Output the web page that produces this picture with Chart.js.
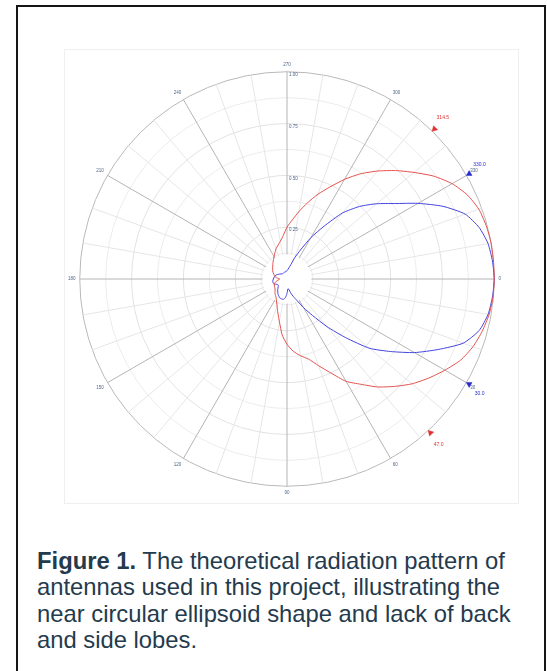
<!DOCTYPE html>
<html>
<head>
<meta charset="utf-8">
<title>Antenna radiation pattern</title>
<script src="https://cdn.jsdelivr.net/npm/chart.js@4.4.1/dist/chart.umd.min.js"></script>
<style>
  html, body { margin: 0; padding: 0; background: #fff; }
  body { width: 547px; height: 671px; position: relative; overflow: hidden;
         font-family: "Liberation Sans", Arial, sans-serif; }
  #frame { position: absolute; left: 16px; top: 5px; width: 530px; height: 720px;
           border: 2px solid #151515; box-sizing: border-box; }
  #panel { position: absolute; left: 64px; top: 49px; width: 455px; height: 455px;
           border: 1px solid #efefef; box-sizing: border-box; }
  #pattern { position: absolute; left: 66px; top: 60px; }
  #caption { position: absolute; left: 37px; top: 548px; font-size: 23.8px;
             line-height: 26.3px; color: #243a4d; white-space: nowrap; }
</style>
</head>
<body>
<div id="frame"></div>
<div id="panel"></div>
<canvas id="pattern" width="438" height="438"></canvas>
<div id="caption"><b>Figure 1.</b> The theoretical radiation pattern of<br>antennas used in this project, illustrating the<br>near circular ellipsoid shape and lack of back<br>and side lobes.</div>

<script>
// Normalised field pattern, angle in degrees measured clockwise from 0 (right)
const blueAngles = [0, 5, 10, 15, 20, 25, 30, 35, 40, 45, 50, 55, 60, 65, 70, 75, 80, 85, 90, 95,
  100, 110, 120, 130, 140, 145, 150, 160, 170, 180, 190, 200, 210, 220, 230, 240, 250, 260, 270,
  280, 285, 290, 295, 300, 305, 310, 315, 320, 325, 330, 335, 340, 345, 350, 355];
const blueGain = [1.00, 0.995, 0.985, 0.96, 0.905, 0.805, 0.71, 0.61, 0.52, 0.40, 0.30, 0.215, 0.16, 0.115, 0.09, 0.07, 0.05, 0.048, 0.07, 0.09,
  0.10, 0.098, 0.086, 0.07, 0.055, 0.051, 0.053, 0.068, 0.07, 0.066, 0.062, 0.056, 0.046, 0.038, 0.033, 0.033, 0.035, 0.036, 0.04,
  0.055, 0.072, 0.11, 0.155, 0.23, 0.31, 0.415, 0.495, 0.565, 0.635, 0.73, 0.83, 0.915, 0.96, 0.985, 0.995];

const redAngles = [0, 5, 10, 15, 20, 25, 30, 35, 40, 45, 50, 55, 60, 65, 70, 75, 80, 85, 90, 95,
  100, 105, 110, 120, 130, 140, 150, 160, 170, 175, 180, 185, 190, 200, 210, 220, 230, 240, 250,
  260, 265, 270, 275, 280, 285, 290, 295, 300, 305, 310, 315, 320, 325, 330, 335, 340, 345, 350, 355];
const redGain = [1.00, 0.998, 0.99, 0.975, 0.955, 0.925, 0.88, 0.834, 0.787, 0.733, 0.68, 0.62, 0.57, 0.50, 0.445, 0.40, 0.376, 0.35, 0.315, 0.27,
  0.21, 0.17, 0.14, 0.105, 0.09, 0.075, 0.07, 0.065, 0.05, 0.04, 0.035, 0.045, 0.058, 0.068, 0.08, 0.09, 0.105, 0.125, 0.155,
  0.185, 0.21, 0.25, 0.285, 0.33, 0.38, 0.435, 0.49, 0.555, 0.62, 0.68, 0.74, 0.80, 0.865, 0.92, 0.96, 0.985, 0.995, 1.00, 1.00];

// Half-power beamwidth markers (angle, radial level)
const blueMarkerAngles = [330, 30];
const blueMarkerLevels = [1.015, 1.015];
const redMarkerAngles = [314.5, 47];
const redMarkerLevels = [1.015, 1.015];

// Radial axis
const radialMin = 0;
const radialMax = 1;
const radialStep = 0.125;
const radialLabelStep = 0.25;

// Angular categories: 0.5 degree steps, starting at 270 at the top and running clockwise
const ANGLE_STEP = 0.5;
const angleLabels = [];
for (let i = 0; i < 360 / ANGLE_STEP; i++) {
  angleLabels.push(String((270 + i * ANGLE_STEP) % 360));
}
const indexOfAngle = a => Math.round((((a - 270) % 360) + 360) % 360 / ANGLE_STEP);
const angleAt = i => Number(angleLabels[i]);

function toSeries(angles, values) {
  const out = new Array(angleLabels.length).fill(null);
  angles.forEach((a, k) => { out[indexOfAngle(a)] = values[k]; });
  return out;
}

const RED = '#e4504c';
const BLUE = '#4343e0';
const LABEL = '#4f6686';

// White disc in the middle of the grid, where the spokes stop
const centreHole = {
  id: 'centreHole',
  beforeDatasetsDraw(chart) {
    const s = chart.scales.r;
    const ctx = chart.ctx;
    ctx.save();
    ctx.fillStyle = '#ffffff';
    ctx.beginPath();
    ctx.arc(s.xCenter, s.yCenter, s.getDistanceFromCenterForValue(0.118), 0, Math.PI * 2);
    ctx.fill();
    ctx.restore();
  }
};

// Angle read-outs next to the beamwidth markers
const markerLabels = {
  id: 'markerLabels',
  afterDatasetsDraw(chart) {
    const s = chart.scales.r;
    const ctx = chart.ctx;
    ctx.save();
    ctx.font = '5px "Liberation Sans", Arial, sans-serif';
    ctx.textAlign = 'center';
    ctx.textBaseline = 'middle';
    chart.data.datasets.forEach((ds, di) => {
      if (!ds.markerAngles) return;
      const meta = chart.getDatasetMeta(di);
      ctx.fillStyle = ds.pointBackgroundColor;
      ds.markerAngles.forEach(a => {
        const el = meta.data[indexOfAngle(a)];
        const dx = el.x - s.xCenter, dy = el.y - s.yCenter;
        const d = Math.hypot(dx, dy);
        ctx.fillText(a.toFixed(1), el.x + dx / d * 12, el.y + dy / d * 12 + Math.sign(dy) * 3);
      });
    });
    ctx.restore();
  }
};

// Triangles point in towards the centre
const inwardRotation = ctx => (angleAt(ctx.dataIndex) - 90 + 360) % 360;

Chart.defaults.font.family = '"Liberation Sans", Arial, sans-serif';

new Chart(document.getElementById('pattern'), {
  type: 'radar',
  data: {
    labels: angleLabels,
    datasets: [
      {
        label: 'Pattern A',
        data: toSeries(redAngles, redGain),
        borderColor: RED, borderWidth: 1, pointRadius: 0, fill: false,
        spanGaps: true, tension: 0.2
      },
      {
        label: 'Pattern B',
        data: toSeries(blueAngles, blueGain),
        borderColor: BLUE, borderWidth: 1, pointRadius: 0, fill: false,
        spanGaps: true, tension: 0.2
      },
      {
        label: 'Pattern A beamwidth',
        data: toSeries(redMarkerAngles, redMarkerLevels),
        markerAngles: redMarkerAngles,
        showLine: false, pointStyle: 'triangle', pointRadius: 3.3,
        pointBackgroundColor: '#e03030', pointBorderColor: '#e03030', pointBorderWidth: 0.5,
        pointRotation: inwardRotation
      },
      {
        label: 'Pattern B beamwidth',
        data: toSeries(blueMarkerAngles, blueMarkerLevels),
        markerAngles: blueMarkerAngles,
        showLine: false, pointStyle: 'triangle', pointRadius: 3.3,
        pointBackgroundColor: '#2a2ad0', pointBorderColor: '#2a2ad0', pointBorderWidth: 0.5,
        pointRotation: inwardRotation
      }
    ]
  },
  options: {
    responsive: false,
    animation: false,
    events: [],
    plugins: { legend: { display: false }, tooltip: { enabled: false } },
    scales: {
      r: {
        min: radialMin,
        max: radialMax,
        startAngle: 0,
        beginAtZero: true,
        grid: {
          circular: true,
          lineWidth: 1,
          color: ctx => {
            const v = ctx.tick.value;
            if (Math.abs(v - radialMax) < 1e-9) return '#b9b9b9';
            if (Math.abs(v / radialLabelStep - Math.round(v / radialLabelStep)) < 1e-9) return '#e2e2e2';
            return '#ececec';
          }
        },
        angleLines: {
          color: ctx => (angleAt(ctx.index) % 30 === 0 ? '#b4b4b4' : '#e6e6e6'),
          lineWidth: ctx => {
            const a = angleAt(ctx.index);
            return (a % 30 === 0 || a % 10 === 0) ? 1 : 0;
          }
        },
        pointLabels: {
          display: true,
          padding: 2,
          color: LABEL,
          font: { size: 4.5 },
          callback: (label) => (Number(label) % 30 === 0 ? label : '')
        },
        ticks: {
          stepSize: radialStep,
          showLabelBackdrop: false,
          backdropPadding: 0,
          color: LABEL,
          font: { size: 4.5, lineHeight: 0.65 },
          callback: v => {
            const k = v / radialLabelStep;
            if (v <= 0 || Math.abs(k - Math.round(k)) > 1e-9) return '';
            return ['', '\u2007\u2007\u2007\u2007\u2007' + v.toFixed(2)];
          }
        }
      }
    }
  },
  plugins: [centreHole, markerLabels]
});
</script>
</body>
</html>
